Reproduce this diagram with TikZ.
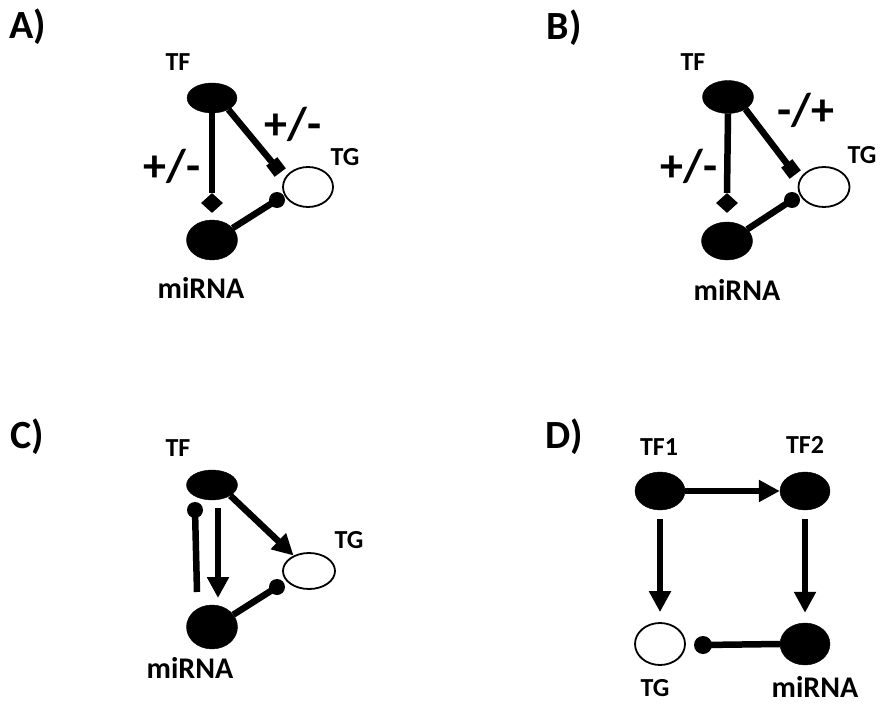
\documentclass[tikz,border=0pt]{standalone}
\usepackage{fontspec}
\setmainfont{Carlito}
\usetikzlibrary{arrows.meta,shapes.geometric}
\tikzset{
  full/.style={ellipse,fill=black,draw=black,inner sep=0pt,minimum width=#1},
  hollow/.style={ellipse,fill=white,draw=black,line width=1.8pt,inner sep=0pt,minimum width=#1},
  dotend/.style={circle,fill=black,inner sep=0pt,minimum size=16pt},
  sqend/.style={rectangle,fill=black,inner sep=0pt,minimum size=14pt},
  dmend/.style={diamond,fill=black,inner sep=0pt,minimum width=22pt,minimum height=20pt},
  conn/.style={line width=6.5pt,draw=black},
  arr/.style={line width=6.5pt,draw=black,-{Triangle[width=21pt,length=21pt]}},
  panel/.style={font=\fontsize{40}{44}\selectfont\bfseries,inner sep=0pt},
  lab/.style={font=\fontsize{26}{30}\selectfont\bfseries,inner sep=0pt},
  mlab/.style={font=\fontsize{30}{34}\selectfont\bfseries,inner sep=0pt},
  sign/.style={font=\fontsize{46}{50}\selectfont\bfseries,inner sep=0pt}
}
\begin{document}
\begin{tikzpicture}[x=1pt,y=-1pt]
\useasboundingbox (0,0) rectangle (881,706);
% ---------- Panel A
\node[panel] (pA) at (28,27) {A)};
\node[full=50pt,minimum height=30pt] (tfA) at (212,98) {};
\node[full=51pt,minimum height=40pt] (miA) at (212,240) {};
\node[hollow=50pt,minimum height=40pt] (tgA) at (308,187) {};
\node[lab] (ltfA) at (178,62) {TF};
\node[lab] (ltgA) at (345,157) {TG};
\node[mlab] (lmiA) at (201,288) {miRNA};
\node[dmend] (dmA) at (212,203) {};
\node[sqend,rotate=37] (sqA) at (276,167) {};
\node[dotend] (dtA) at (277,200) {};
\draw[conn] (tfA.south) -- (dmA.north);
\draw[conn] (tfA.-35) -- (sqA.center);
\draw[conn] (miA.30) -- (dtA.center);
\node[sign] (sA1) at (172,166) {+/-};
\node[sign] (sA2) at (293,124) {+/-};
% ---------- Panel B
\node[panel] (pB) at (564,28) {B)};
\node[full=51pt,minimum height=33pt] (tfB) at (728,97) {};
\node[full=51pt,minimum height=38pt] (miB) at (727,241) {};
\node[hollow=51pt,minimum height=40pt] (tgB) at (824,187) {};
\node[lab] (ltfB) at (693,62) {TF};
\node[lab] (ltgB) at (862,155) {TG};
\node[mlab] (lmiB) at (737,290) {miRNA};
\node[dmend] (dmB) at (727,203) {};
\node[sqend,rotate=37] (sqB) at (791,169) {};
\node[dotend] (dtB) at (792,200) {};
\draw[conn] (tfB.south) -- (dmB.north);
\draw[conn] (tfB.-35) -- (sqB.center);
\draw[conn] (miB.30) -- (dtB.center);
\node[sign] (sB1) at (689,166) {+/-};
\node[sign] (sB2) at (806,110) {-/+};
% ---------- Panel C
\node[panel] (pC) at (27,437) {C)};
\node[full=51pt,minimum height=30pt] (tfC) at (212,485) {};
\node[full=51pt,minimum height=44pt] (miC) at (212,627) {};
\node[hollow=52pt,minimum height=36pt] (tgC) at (309,571) {};
\node[lab] (ltfC) at (178,448) {TF};
\node[lab] (ltgC) at (349,540) {TG};
\node[mlab] (lmiC) at (190,668) {miRNA};
\node[dotend] (dtC1) at (195,510) {};
\coordinate (eC1) at (197,592);
\node[dotend] (dtC2) at (277,587) {};
\coordinate (aC1) at (218,508);
\coordinate (aC2) at (218,598);
\draw[conn] (dtC1.center) -- (eC1);
\draw[arr] (aC1) -- (aC2);
\draw[arr] (tfC.-30) -- (tgC.135);
\draw[conn] (miC.30) -- (dtC2.center);
% ---------- Panel D
\node[panel] (pD) at (564,437) {D)};
\node[full=50pt,minimum height=38pt] (tf1D) at (660,491) {};
\node[full=50pt,minimum height=38pt] (tf2D) at (805,491) {};
\node[hollow=50pt,minimum height=42pt] (tgD) at (660,644) {};
\node[full=50pt,minimum height=42pt] (miD) at (805,644) {};
\node[lab] (ltf1D) at (659,447) {TF1};
\node[lab] (ltf2D) at (805,445) {TF2};
\node[lab] (ltgD) at (655,688) {TG};
\node[mlab] (lmiD) at (815,687) {miRNA};
\node[dotend,minimum size=18pt] (dtD) at (703,645) {};
\draw[arr] (tf1D.east) -- (tf2D.west);
\draw[arr] ([yshift=-9pt]tf1D.south) -- ([yshift=10pt]tgD.north);
\draw[arr] ([yshift=-9pt]tf2D.south) -- ([yshift=10pt]miD.north);
\draw[conn] (miD.west) -- (dtD.center);
\end{tikzpicture}
\end{document}
